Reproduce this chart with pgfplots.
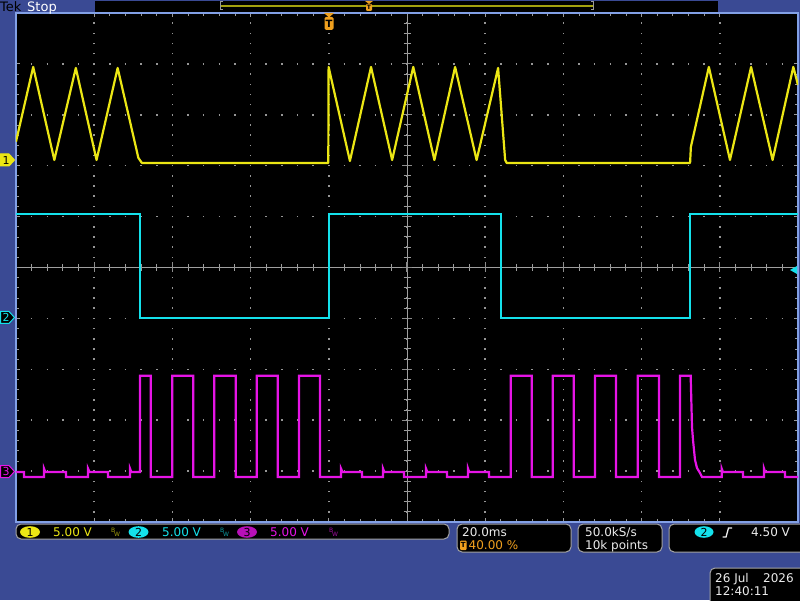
\documentclass[border=0pt]{standalone}
\usepackage{pgfplots}
\pgfplotsset{compat=1.18}
\usepackage{pgfplotstable}
\usepackage{fontspec}
\setmainfont{DejaVu Sans}

\definecolor{tekblue}{RGB}{58,74,148}
\definecolor{bord}{RGB}{130,160,230}
\definecolor{chA}{RGB}{235,230,20}
\definecolor{chB}{RGB}{20,225,235}
\definecolor{chC}{RGB}{230,20,230}
\definecolor{tekor}{RGB}{240,160,30}
\definecolor{dotc}{RGB}{150,150,150}
\definecolor{boxg}{RGB}{165,165,165}
\definecolor{txt}{RGB}{235,235,235}

% time in ms (20 ms/div, trigger at 0), level in V (5 V/div)
\pgfplotstableread{
t v
-80 1.8
-75.6 9.14
-70.2 0
-64.7 9.04
-59.4 0
-54.0 9.04
-48.7 0.2
-47.8 -0.29
-0.13 -0.29
-0.05 9.14
5.4 -0.1
10.8 9.14
16.2 0
21.6 9.14
27.0 0
32.3 9.14
37.8 0
43.3 9.04
45.1 0.0
45.5 -0.29
92.4 -0.29
92.6 1.28
97.2 9.14
102.6 0
108.0 9.14
113.5 0
118.8 9.14
120 7.37
}\chone

\pgfplotstableread{
t v
-80 10.2
-48.2 10.2
-48.2 0
0.05 0
0.05 10.2
44.0 10.2
44.0 0
92.4 0
92.4 10.2
120 10.2
}\chtwo

\pgfplotstableread{
t v
-80 -0.09
-77.95 -0.09
-77.95 -0.58
-72.84 -0.58
-72.84 0.25
-72.5 -0.09
-67.21 -0.09
-67.21 -0.58
-61.58 -0.58
-61.58 0.25
-61.2 -0.09
-56.47 -0.09
-56.47 -0.58
-50.84 -0.58
-50.84 0.25
-50.5 -0.09
-48.28 -0.09
-48.28 9.37
-45.55 9.37
-45.55 -0.58
-40.02 -0.58
-40.02 9.37
-34.65 9.37
-34.65 -0.58
-29.28 -0.58
-29.28 9.37
-23.81 9.37
-23.81 -0.58
-18.44 -0.58
-18.44 9.37
-13.07 9.37
-13.07 -0.58
-7.62 -0.58
-7.62 9.37
-2.25 9.37
-2.25 -0.58
3.12 -0.58
3.12 0.25
3.5 -0.09
8.49 -0.09
8.49 -0.58
13.86 -0.58
13.86 0.25
14.2 -0.09
19.23 -0.09
19.23 -0.58
24.86 -0.58
24.86 0.25
25.2 -0.09
30.23 -0.09
30.23 -0.58
35.60 -0.58
35.60 0.25
35.9 -0.09
40.97 -0.09
40.97 -0.58
46.52 -0.58
46.52 9.37
51.89 9.37
51.89 -0.58
57.26 -0.58
57.26 9.37
62.63 9.37
62.63 -0.58
68.08 -0.58
68.08 9.37
73.45 9.37
73.45 -0.58
79.00 -0.58
79.00 9.37
84.45 9.37
84.45 -0.58
89.82 -0.58
89.82 9.37
92.55 9.37
92.89 4.33
93.15 3.05
93.66 1.09
94.17 0.30
94.94 -0.19
95.45 -0.58
100.48 -0.58
100.48 0.25
100.8 -0.09
105.93 -0.09
105.93 -0.58
111.30 -0.58
111.30 0.25
111.6 -0.09
116.67 -0.09
116.67 -0.58
120 -0.58
}\chthree

\begin{document}
\begin{tikzpicture}
\useasboundingbox (0,0) rectangle (800pt,600pt);
\fill[tekblue] (0,0) rectangle (800pt,600pt);

% screen pixels: x to the right, y downwards
\begin{scope}[x=1pt,y=-1pt,shift={(0,600pt)}]
  \fill[black] (16,13) rectangle (798,522);
  \draw[gray!75, line width=1] (16,267.5) -- (798,267.5);
  \draw[gray!75, line width=1] (407,13) -- (407,522);
  \foreach \i in {0,...,50} {
    \draw[gray!75, line width=1] ({16+15.64*\i},264) -- ++(0,7);
    \draw[gray!75, line width=1] (403.5,{13+10.18*\i}) -- ++(7,0);
  }
  \foreach \i in {0,...,10} {
    \draw[gray!90, line width=1.2] ({16+78.2*\i},262.5) -- ++(0,10);
    \draw[gray!90, line width=1.2] (402,{13+50.9*\i}) -- ++(10,0);
  }
\end{scope}

\begin{axis}[
  at={(16pt,78pt)}, anchor=south west,
  scale only axis, width=782pt, height=509pt,
  xmin=-80, xmax=120, ymin=-5, ymax=5,
  xtick={-60,-40,...,100}, ytick={-4,-3,...,4},
  xticklabels={}, yticklabels={},
  minor x tick num=4, minor y tick num=4,
  major tick length=4pt, minor tick length=3pt,
  tick style={gray!80, line width=0.8pt},
  grid=major,
  x grid style={dotc, line width=1.5pt, dash pattern=on 1.5pt off 8.68pt, dash phase=0.75pt},
  y grid style={dotc, line width=1.5pt, dash pattern=on 1.5pt off 14.14pt, dash phase=0.75pt},
  axis line style={bord, line width=1.3pt},
]
\addplot[chA, line width=2.2pt, line join=round] table[x=t, y expr=\thisrow{v}/5+2.112] {\chone};
\addplot[chB, line width=2.2pt] table[x=t, y expr=\thisrow{v}/5-0.992] {\chtwo};
\addplot[chC, line width=2.2pt] table[x=t, y expr=\thisrow{v}/5-4.0] {\chthree};
\end{axis}

\begin{scope}[x=1pt,y=-1pt,shift={(0,600pt)}]
  % top status bar
  \node[anchor=base west, inner sep=0, font=\fontsize{13}{13}\selectfont, text=black] at (0,11.5) {Tek};
  \node[anchor=base west, inner sep=0, font=\fontsize{13}{13}\selectfont, text=white] at (27,11.5) {Stop};
  \fill[black] (95,1) rectangle (718,12);
  \draw[chA!70!black, line width=2] (220,6) -- (594,6);
  \draw[gray!80, line width=1] (223,2) -- (220.5,2) -- (220.5,10) -- (223,10);
  \draw[gray!80, line width=1] (591,2) -- (593.5,2) -- (593.5,10) -- (591,10);
  \fill[tekor] (365,1) -- (373,1) -- (369,4) -- cycle;
  \fill[tekor, rounded corners=1] (366,4) rectangle (372,11);
  \node[inner sep=0, font=\fontsize{6}{6}\selectfont\bfseries, text=black] at (369,7.5) {T};

  % trigger position marker
  \fill[tekor] (324,13) -- (334,13) -- (329,17.5) -- cycle;
  \fill[tekor, rounded corners=1.5] (324.5,17) rectangle (333.5,30);
  \node[inner sep=0, font=\fontsize{10}{10}\selectfont\bfseries, text=black] at (329,23.5) {T};

  % trigger level
  \fill[chB] (797,266) -- (797,274) -- (790,270) -- cycle;

  % channel ground markers
  \filldraw[fill=chA, draw=chA, line width=1] (0.5,154) -- (9,154) -- (14.5,160) -- (9,166) -- (0.5,166) -- cycle;
  \node[inner sep=0, font=\fontsize{11}{11}\selectfont, text=black] at (6,160) {1};
  \filldraw[fill=black, draw=chB, line width=1] (0.5,311.5) -- (9,311.5) -- (14.5,317.5) -- (9,323.5) -- (0.5,323.5) -- cycle;
  \node[inner sep=0, font=\fontsize{11}{11}\selectfont, text=chB] at (6,317.5) {2};
  \filldraw[fill=black, draw=chC, line width=1] (0.5,465.5) -- (9,465.5) -- (14.5,471.5) -- (9,477.5) -- (0.5,477.5) -- cycle;
  \node[inner sep=0, font=\fontsize{11}{11}\selectfont, text=chC] at (6,471.5) {3};

  % bottom readouts
  \filldraw[fill=black, draw=boxg, line width=1, rounded corners=5] (16,524) rectangle (449,539);
  \fill[chA] (30,532) ellipse [x radius=10, y radius=5.8];
  \node[inner sep=0, font=\fontsize{11}{11}\selectfont, text=black] at (30,532) {1};
  \node[anchor=base west, inner sep=0, font=\fontsize{12}{12}\selectfont, text=chA] at (53,536) {5.00 V};
  \node[anchor=base west, inner sep=0, font=\fontsize{6}{6}\selectfont, text=chA!70!black] at (111,532) {B};
  \node[anchor=base west, inner sep=0, font=\fontsize{6}{6}\selectfont, text=chA!70!black] at (114,536.5) {W};
  \fill[chB] (138.5,532) ellipse [x radius=10, y radius=5.8];
  \node[inner sep=0, font=\fontsize{11}{11}\selectfont, text=black] at (138.5,532) {2};
  \node[anchor=base west, inner sep=0, font=\fontsize{12}{12}\selectfont, text=chB] at (162,536) {5.00 V};
  \node[anchor=base west, inner sep=0, font=\fontsize{6}{6}\selectfont, text=chB!70!black] at (220,532) {B};
  \node[anchor=base west, inner sep=0, font=\fontsize{6}{6}\selectfont, text=chB!70!black] at (223,536.5) {W};
  \fill[chC!80!black] (247,532) ellipse [x radius=10, y radius=5.8];
  \node[inner sep=0, font=\fontsize{11}{11}\selectfont, text=black] at (247,532) {3};
  \node[anchor=base west, inner sep=0, font=\fontsize{12}{12}\selectfont, text=chC] at (270,536) {5.00 V};
  \node[anchor=base west, inner sep=0, font=\fontsize{6}{6}\selectfont, text=chC!70!black] at (329,532) {B};
  \node[anchor=base west, inner sep=0, font=\fontsize{6}{6}\selectfont, text=chC!70!black] at (332,536.5) {W};

  \filldraw[fill=black, draw=boxg, line width=1, rounded corners=5] (457,524) rectangle (571,552);
  \node[anchor=base west, inner sep=0, font=\fontsize{12}{12}\selectfont, text=txt] at (462,536) {20.0ms};
  \fill[tekor, rounded corners=1] (460,540.5) rectangle (466.5,550);
  \node[inner sep=0, font=\fontsize{7}{7}\selectfont\bfseries, text=black] at (463.2,545.3) {T};
  \node[anchor=base west, inner sep=0, font=\fontsize{12}{12}\selectfont, text=tekor] at (468.5,549) {40.00 \%};

  \filldraw[fill=black, draw=boxg, line width=1, rounded corners=5] (578,524) rectangle (662,552);
  \node[anchor=base west, inner sep=0, font=\fontsize{12}{12}\selectfont, text=txt] at (585,536) {50.0kS/s};
  \node[anchor=base west, inner sep=0, font=\fontsize{12}{12}\selectfont, text=txt] at (585,549) {10k points};

  \filldraw[fill=black, draw=boxg, line width=1, rounded corners=5] (669,524) rectangle (808,552);
  \fill[chB] (704,532) ellipse [x radius=9.5, y radius=5.8];
  \node[inner sep=0, font=\fontsize{11}{11}\selectfont, text=black] at (704,532) {2};
  \draw[txt, line width=1.3] (722.5,537) -- (726,537) -- (728.5,528) -- (732,528);
  \node[anchor=base west, inner sep=0, font=\fontsize{12}{12}\selectfont, text=txt] at (751,536) {4.50 V};

  \filldraw[fill=black, draw=boxg, line width=1, rounded corners=5] (710,568) rectangle (808,608);
  \node[anchor=base west, inner sep=0, font=\fontsize{12}{12}\selectfont, text=txt] at (715,582) {26 Jul};
  \node[anchor=base west, inner sep=0, font=\fontsize{12}{12}\selectfont, text=txt] at (763,582) {2026};
  \node[anchor=base west, inner sep=0, font=\fontsize{12}{12}\selectfont, text=txt] at (715,595) {12:40:11};
\end{scope}
\end{tikzpicture}
\end{document}
